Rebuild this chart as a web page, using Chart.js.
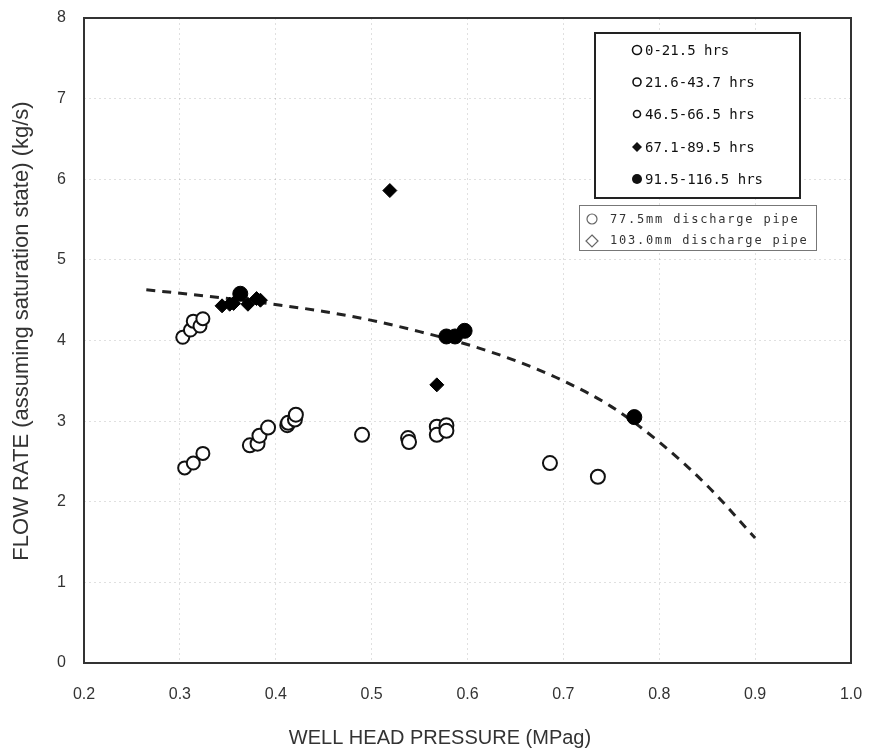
<!DOCTYPE html>
<html>
<head>
<meta charset="utf-8">
<script src="https://cdn.jsdelivr.net/npm/chart.js@4"></script>
<style>
  html, body { margin: 0; padding: 0; background: #fff; }
  #wrap { width: 871px; height: 756px; position: relative; }
</style>
</head>
<body>
<div id="wrap"><canvas id="flowChart" width="871" height="756"></canvas></div>
<script>
// --- Data (x = well head pressure MPag, y = flow rate kg/s) ---
const xTicks = [0.2, 0.3, 0.4, 0.5, 0.6, 0.7, 0.8, 0.9, 1.0];

const seriesLabels = ["0-21.5 hrs", "21.6-43.7 hrs", "46.5-66.5 hrs", "67.1-89.5 hrs", "91.5-116.5 hrs"];
const pipeLabels = ["77.5mm discharge pipe", "103.0mm discharge pipe"];
const xTitle = "WELL HEAD PRESSURE (MPag)";
const yTitle = "FLOW RATE (assuming saturation state) (kg/s)";

const p1 = [0.490, 0.538, 0.539, 0.568, 0.568, 0.578, 0.578, 0.686, 0.736];
const f1 = [2.83, 2.79, 2.74, 2.93, 2.83, 2.95, 2.88, 2.48, 2.31];

const p2 = [0.373, 0.381, 0.383, 0.392, 0.412, 0.413, 0.420, 0.421];
const f2 = [2.70, 2.72, 2.82, 2.92, 2.95, 2.98, 3.02, 3.08];

const p3 = [0.305, 0.314, 0.324, 0.303, 0.311, 0.314, 0.321, 0.324];
const f3 = [2.42, 2.48, 2.60, 4.04, 4.13, 4.24, 4.18, 4.27];

const p4 = [0.344, 0.352, 0.356, 0.371, 0.380, 0.384, 0.519, 0.568];
const f4 = [4.43, 4.45, 4.46, 4.45, 4.52, 4.50, 5.86, 3.45];

const p5 = [0.363, 0.578, 0.587, 0.597, 0.774];
const f5 = [4.58, 4.05, 4.05, 4.12, 3.05];

// dashed trend curve
const pCurve = [0.265, 0.35, 0.45, 0.50, 0.55, 0.60, 0.65, 0.70, 0.75, 0.80, 0.85, 0.90];
const fCurve = [4.63, 4.52, 4.36, 4.25, 4.11, 3.95, 3.75, 3.50, 3.18, 2.74, 2.20, 1.55];

const pts = (xs, ys) => xs.map((x, i) => ({x: x, y: ys[i]}));

// --- Legend boxes + axis titles drawn on the canvas ---
const legendBoxes = {
    id: 'legendBoxes',
    afterDraw(chart) {
        const ctx = chart.ctx;
        ctx.save();
        // box 1: time ranges
        ctx.strokeStyle = '#222';
        ctx.lineWidth = 2;
        ctx.fillStyle = '#fff';
        ctx.fillRect(595, 33, 205, 165);
        ctx.strokeRect(595, 33, 205, 165);
        const rows = [50, 82, 114, 147, 179];
        const shapes = ['c6', 'c5', 'c4', 'd', 'f'];
        rows.forEach((y, i) => {
            const x = 637;
            ctx.beginPath();
            ctx.lineWidth = 1.6;
            ctx.strokeStyle = '#111';
            ctx.fillStyle = '#111';
            if (shapes[i] === 'd') {
                ctx.moveTo(x, y - 5); ctx.lineTo(x + 5, y); ctx.lineTo(x, y + 5); ctx.lineTo(x - 5, y); ctx.closePath();
                ctx.fill();
            } else if (shapes[i] === 'f') {
                ctx.arc(x, y, 5, 0, Math.PI * 2); ctx.fill();
            } else {
                const r = {c6: 4.5, c5: 4, c4: 3.5}[shapes[i]];
                ctx.arc(x, y, r, 0, Math.PI * 2); ctx.stroke();
            }
            ctx.fillStyle = '#111';
            ctx.font = '14px "DejaVu Sans Mono", monospace';
            ctx.textBaseline = 'middle';
            ctx.textAlign = 'left';
            ctx.fillText(seriesLabels[i], 645, y + 1);
        });
        // box 2: discharge pipes
        ctx.fillStyle = '#fff';
        ctx.fillRect(579, 205, 237, 45);
        ctx.strokeStyle = '#777';
        ctx.lineWidth = 1;
        ctx.strokeRect(579.5, 205.5, 237, 45);
        ctx.strokeStyle = '#666';
        ctx.lineWidth = 1.2;
        ctx.beginPath(); ctx.arc(592, 219, 5, 0, Math.PI * 2); ctx.stroke();
        ctx.beginPath();
        ctx.moveTo(592, 235); ctx.lineTo(598, 241); ctx.lineTo(592, 247); ctx.lineTo(586, 241); ctx.closePath();
        ctx.stroke();
        ctx.fillStyle = '#333';
        ctx.font = '12px "DejaVu Sans Mono", monospace';
        ctx.letterSpacing = '1.8px';
        ctx.textBaseline = 'middle';
        ctx.fillText(pipeLabels[0], 610, 220);
        ctx.fillText(pipeLabels[1], 610, 241);
        ctx.letterSpacing = '0px';

        // axis titles (reference places them slightly off centre)
        ctx.fillStyle = '#333';
        ctx.textAlign = 'center';
        ctx.font = '20px "Liberation Sans", Arial, sans-serif';
        ctx.fillText(xTitle, 440, 738);
        ctx.translate(22, 331);
        ctx.rotate(-Math.PI / 2);
        ctx.font = '22px "Liberation Sans", Arial, sans-serif';
        ctx.fillText(yTitle, 0, 0);
        ctx.restore();
    }
};

const frame = {
    id: 'frame',
    afterDatasetsDraw(chart) {
        const a = chart.chartArea, ctx = chart.ctx;
        ctx.save();
        ctx.strokeStyle = '#333';
        ctx.lineWidth = 2;
        ctx.strokeRect(a.left, a.top, a.right - a.left, a.bottom - a.top);
        ctx.restore();
    }
};

const openCircle = (data, label, r) => ({
    label: label, data: data, showLine: false,
    pointStyle: 'circle', pointRadius: r, pointHoverRadius: r,
    borderColor: '#111', backgroundColor: '#fff', pointBorderWidth: 2
});

new Chart(document.getElementById('flowChart'), {
    type: 'scatter',
    data: {
        datasets: [
            {
                label: 'trend', data: pts(pCurve, fCurve), showLine: true,
                borderColor: '#222', borderWidth: 3, borderDash: [9, 7],
                pointRadius: 0, tension: 0.4, cubicInterpolationMode: 'monotone', order: 10
            },
            openCircle(pts(p1, f1), seriesLabels[0], 7),
            openCircle(pts(p2, f2), seriesLabels[1], 7),
            openCircle(pts(p3, f3), seriesLabels[2], 6.5),
            {
                label: seriesLabels[3], data: pts(p4, f4), showLine: false,
                pointStyle: 'rectRot', pointRadius: 7, pointHoverRadius: 7,
                borderColor: '#000', backgroundColor: '#000', pointBorderWidth: 1
            },
            {
                label: seriesLabels[4], data: pts(p5, f5), showLine: false,
                pointStyle: 'circle', pointRadius: 7.5, pointHoverRadius: 7.5,
                borderColor: '#000', backgroundColor: '#000', pointBorderWidth: 1
            }
        ]
    },
    options: {
        responsive: false,
        animation: false,
        layout: { padding: { top: 18, right: 20, left: 0, bottom: 0 } },
        plugins: { legend: { display: false }, tooltip: { enabled: false } },
        scales: {
            x: {
                type: 'linear', min: 0.2, max: 1.0,
                afterBuildTicks: s => { s.ticks = xTicks.map(v => ({value: v})); },
                afterFit: s => { s.height = 93; },
                grid: { color: 'rgba(0,0,0,0.12)', drawTicks: true, tickLength: 20, tickColor: 'rgba(0,0,0,0)' },
                border: { display: false, dash: [2, 3] },
                ticks: {
                    padding: 2, color: '#333',
                    font: { family: '"Liberation Sans", Arial, sans-serif', size: 16 },
                    callback: v => v.toFixed(1)
                }
            },
            y: {
                type: 'linear', min: 0, max: 8,
                afterFit: s => { s.width = 84; },
                grid: { color: 'rgba(0,0,0,0.12)', drawTicks: true, tickLength: 16, tickColor: 'rgba(0,0,0,0)' },
                border: { display: false, dash: [2, 3] },
                ticks: {
                    stepSize: 1, padding: 2, color: '#333',
                    font: { family: '"Liberation Sans", Arial, sans-serif', size: 16 }
                }
            }
        }
    },
    plugins: [frame, legendBoxes]
});
</script>
</body>
</html>
